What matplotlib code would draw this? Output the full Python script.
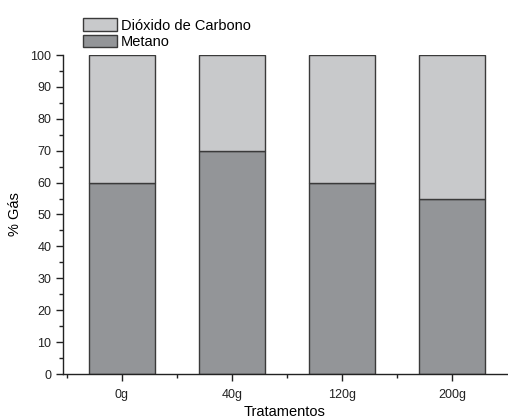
import matplotlib
matplotlib.use("Agg")
import matplotlib.pyplot as plt
from matplotlib.ticker import MultipleLocator, FixedLocator

plt.rcParams['font.family'] = ['Liberation Sans', 'DejaVu Sans']

categories = ['0g', '40g', '120g', '200g']
metano = [60, 70, 60, 55]
dioxido = [40, 30, 40, 45]

fig = plt.figure(figsize=(5.08, 4.19), dpi=100)
ax = fig.add_axes([63/508, 45/419, 444/508, 319/419])

x = list(range(len(categories)))
edge = '#3a3a3a'
b1 = ax.bar(x, metano, width=0.6, color='#939598', edgecolor=edge, linewidth=1.0, label='Metano')
b2 = ax.bar(x, dioxido, width=0.6, bottom=metano, color='#c8c9cb', edgecolor=edge, linewidth=1.0, label='Dióxido de Carbono')

ax.set_xlim(-0.535, 3.5)
ax.set_ylim(0, 100)
ax.set_xticks(x)
ax.set_xticklabels(categories)
ax.xaxis.set_minor_locator(FixedLocator([-0.5, 0.5, 1.5, 2.5]))
ax.yaxis.set_major_locator(MultipleLocator(10))
ax.yaxis.set_minor_locator(MultipleLocator(5))
for s in ['top', 'right']:
    ax.spines[s].set_visible(False)
for s in ['left', 'bottom']:
    ax.spines[s].set_color('#222222')
    ax.spines[s].set_linewidth(1.0)
ax.tick_params(axis='both', which='major', direction='out', length=5, width=1, labelsize=9, colors='#222222')
ax.tick_params(axis='x', which='major', pad=6)
ax.tick_params(axis='both', which='minor', direction='out', length=3, width=1, colors='#222222')
ax.set_xlabel('Tratamentos', fontsize=10.5, labelpad=3)
ax.set_ylabel('% Gás', fontsize=10.5, labelpad=6)

leg = fig.legend(handles=[b2, b1], labels=['Dióxido de Carbono', 'Metano'],
                 loc='upper left', bbox_to_anchor=(73/508, 1 - 8/419),
                 frameon=False, fontsize=10.5, handlelength=2.3, handleheight=0.95,
                 handletextpad=0.3, labelspacing=0.15, borderpad=0.2)

fig.savefig('out.png', dpi=100)
